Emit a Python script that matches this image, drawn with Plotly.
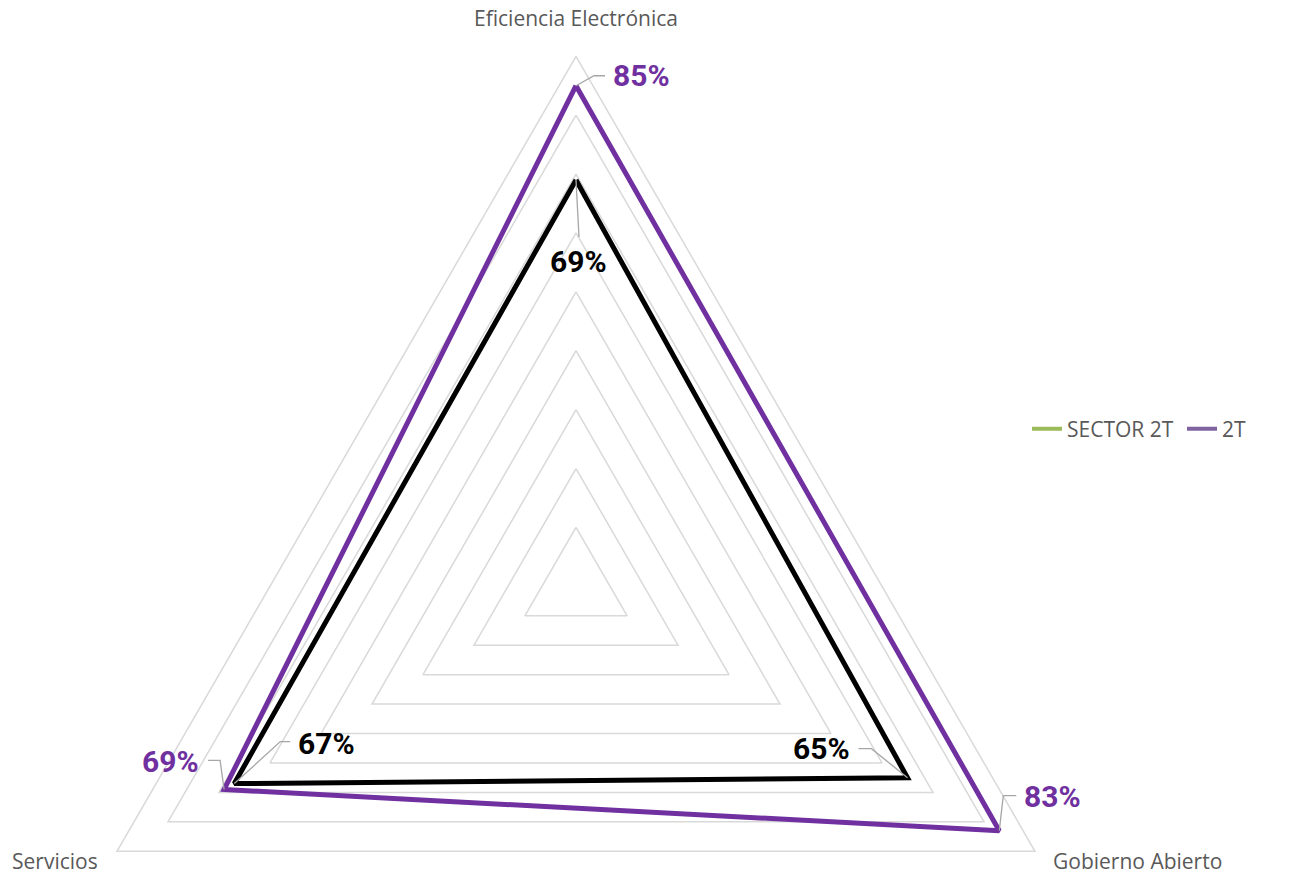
import numpy as np
import plotly.graph_objects as go

# ---- data ----
categories = ["Eficiencia Electrónica", "Gobierno Abierto", "Servicios"]
series_names = ["SECTOR 2T", "2T"]
sector_2t = [0.69, 0.65, 0.67]
t2 = [0.85, 0.83, 0.69]
grid_levels = [0.1, 0.2, 0.3, 0.4, 0.5, 0.6, 0.7, 0.8, 0.9]
labels_sector = ["69%", "65%", "67%"]
labels_t2 = ["85%", "83%", "69%"]

# ---- geometry / style ----
W, H = 1309, 876
CX, CY = 576.0, 586.3          # centre in figure px
R_MAX_PX = 530.0
R_MAX = 0.9
S = R_MAX_PX / R_MAX           # px per value unit
angles = np.deg2rad([90.0, -30.0, 210.0])

GRID_COLOR = "#D9D9D9"
PURPLE = "#7030A0"
BLACK = "#000000"
LEADER = "#A6A6A6"
AXIS_TXT = "#595959"
LBL_FONT = "Roboto, Liberation Sans, Arial, sans-serif"
TXT_FONT = "Open Sans, sans-serif"


def polar_xy(vals):
    v = np.asarray(vals, dtype=float)
    return v * np.cos(angles), v * np.sin(angles)


def closed(a):
    a = list(a)
    return a + a[:1]


fig = go.Figure()

# grid triangles
for lv in grid_levels:
    gx, gy = polar_xy([lv] * 3)
    fig.add_trace(go.Scatter(x=closed(gx), y=closed(gy), mode="lines",
                             line=dict(color=GRID_COLOR, width=1.5),
                             hoverinfo="skip", showlegend=False))

# series
for vals, color in [(t2, PURPLE), (sector_2t, BLACK)]:
    px_, py_ = polar_xy(vals)
    fig.add_trace(go.Scatter(x=closed(px_), y=closed(py_), mode="lines",
                             line=dict(color=color, width=5),
                             hoverinfo="skip", showlegend=False))

# leader lines + labels (offsets in screen px, y down)
leaders_t2 = [
    dict(path=[(0, 0), (18, -10), (29, -10)], at=(35, -10), anchor="left"),
    dict(path=[(0, 0), (4, -35), (17, -35)], at=(23, -34), anchor="left"),
    dict(path=[(0, 0), (-4, -29), (-16, -29)], at=(-23, -28), anchor="right"),
]
leaders_sector = [
    dict(path=[(0, 0), (3, 57)], at=(2, 82), anchor="center"),
    dict(path=[(0, 0), (-36, -29), (-49, -29)], at=(-56, -29), anchor="right"),
    dict(path=[(0, 0), (46, -42), (56, -42)], at=(62, -40), anchor="left"),
]

annotations = []
for vals, texts, leaders, color in [(t2, labels_t2, leaders_t2, PURPLE),
                                    (sector_2t, labels_sector, leaders_sector, BLACK)]:
    px_, py_ = polar_xy(vals)
    for i in range(3):
        ld = leaders[i]
        lx = [px_[i] + dx / S for dx, dy in ld["path"]]
        ly = [py_[i] - dy / S for dx, dy in ld["path"]]
        fig.add_trace(go.Scatter(x=lx, y=ly, mode="lines",
                                 line=dict(color=LEADER, width=1.3),
                                 hoverinfo="skip", showlegend=False))
        annotations.append(dict(x=px_[i], y=py_[i], xref="x", yref="y",
                                xshift=ld["at"][0], yshift=-ld["at"][1],
                                text="<b>%s</b>" % texts[i], showarrow=False,
                                xanchor=ld["anchor"], yanchor="middle",
                                font=dict(family=LBL_FONT, size=30, color=color)))

# category labels at outer vertices
ox, oy = polar_xy([R_MAX] * 3)
cat_shift = [(0, 38), (103, -10), (-62, -10)]
for i, cat in enumerate(categories):
    annotations.append(dict(x=ox[i], y=oy[i], xref="x", yref="y",
                            xshift=cat_shift[i][0], yshift=cat_shift[i][1],
                            text=cat, showarrow=False, xanchor="center", yanchor="middle",
                            height=20, valign="middle", borderpad=0,
                            font=dict(family=TXT_FONT, size=21, color=AXIS_TXT)))

# legend entries (one legend box per entry so each can be placed exactly)
legend_colors = ["#9BBB59", "#8064A2"]
legend_ids = ["legend", "legend2"]
for name, c, lg in zip(series_names, legend_colors, legend_ids):
    fig.add_trace(go.Scatter(x=[None], y=[None], mode="lines", name=name,
                             line=dict(color=c, width=4), legend=lg))

leg_common = dict(orientation="h", xanchor="left", yanchor="middle",
                  y=1 - 429 / H, bgcolor="rgba(0,0,0,0)",
                  font=dict(family=TXT_FONT, size=21, color=AXIS_TXT), itemwidth=30)

fig.update_layout(
    width=W, height=H,
    margin=dict(l=0, r=0, t=0, b=0),
    paper_bgcolor="white", plot_bgcolor="white",
    xaxis=dict(range=[-CX / S, (W - CX) / S], visible=False, fixedrange=True),
    yaxis=dict(range=[-(H - CY) / S, CY / S], visible=False, fixedrange=True),
    annotations=annotations,
    showlegend=True,
    legend=dict(x=1027 / W, **leg_common),
    legend2=dict(x=1182 / W, **leg_common),
)

# remove the page's default body margin so the figure fills the window exactly
fig.write_html("out.html",
               config={"displayModeBar": False},
               post_script="document.body.style.margin='0px';document.body.style.overflow='hidden';")
